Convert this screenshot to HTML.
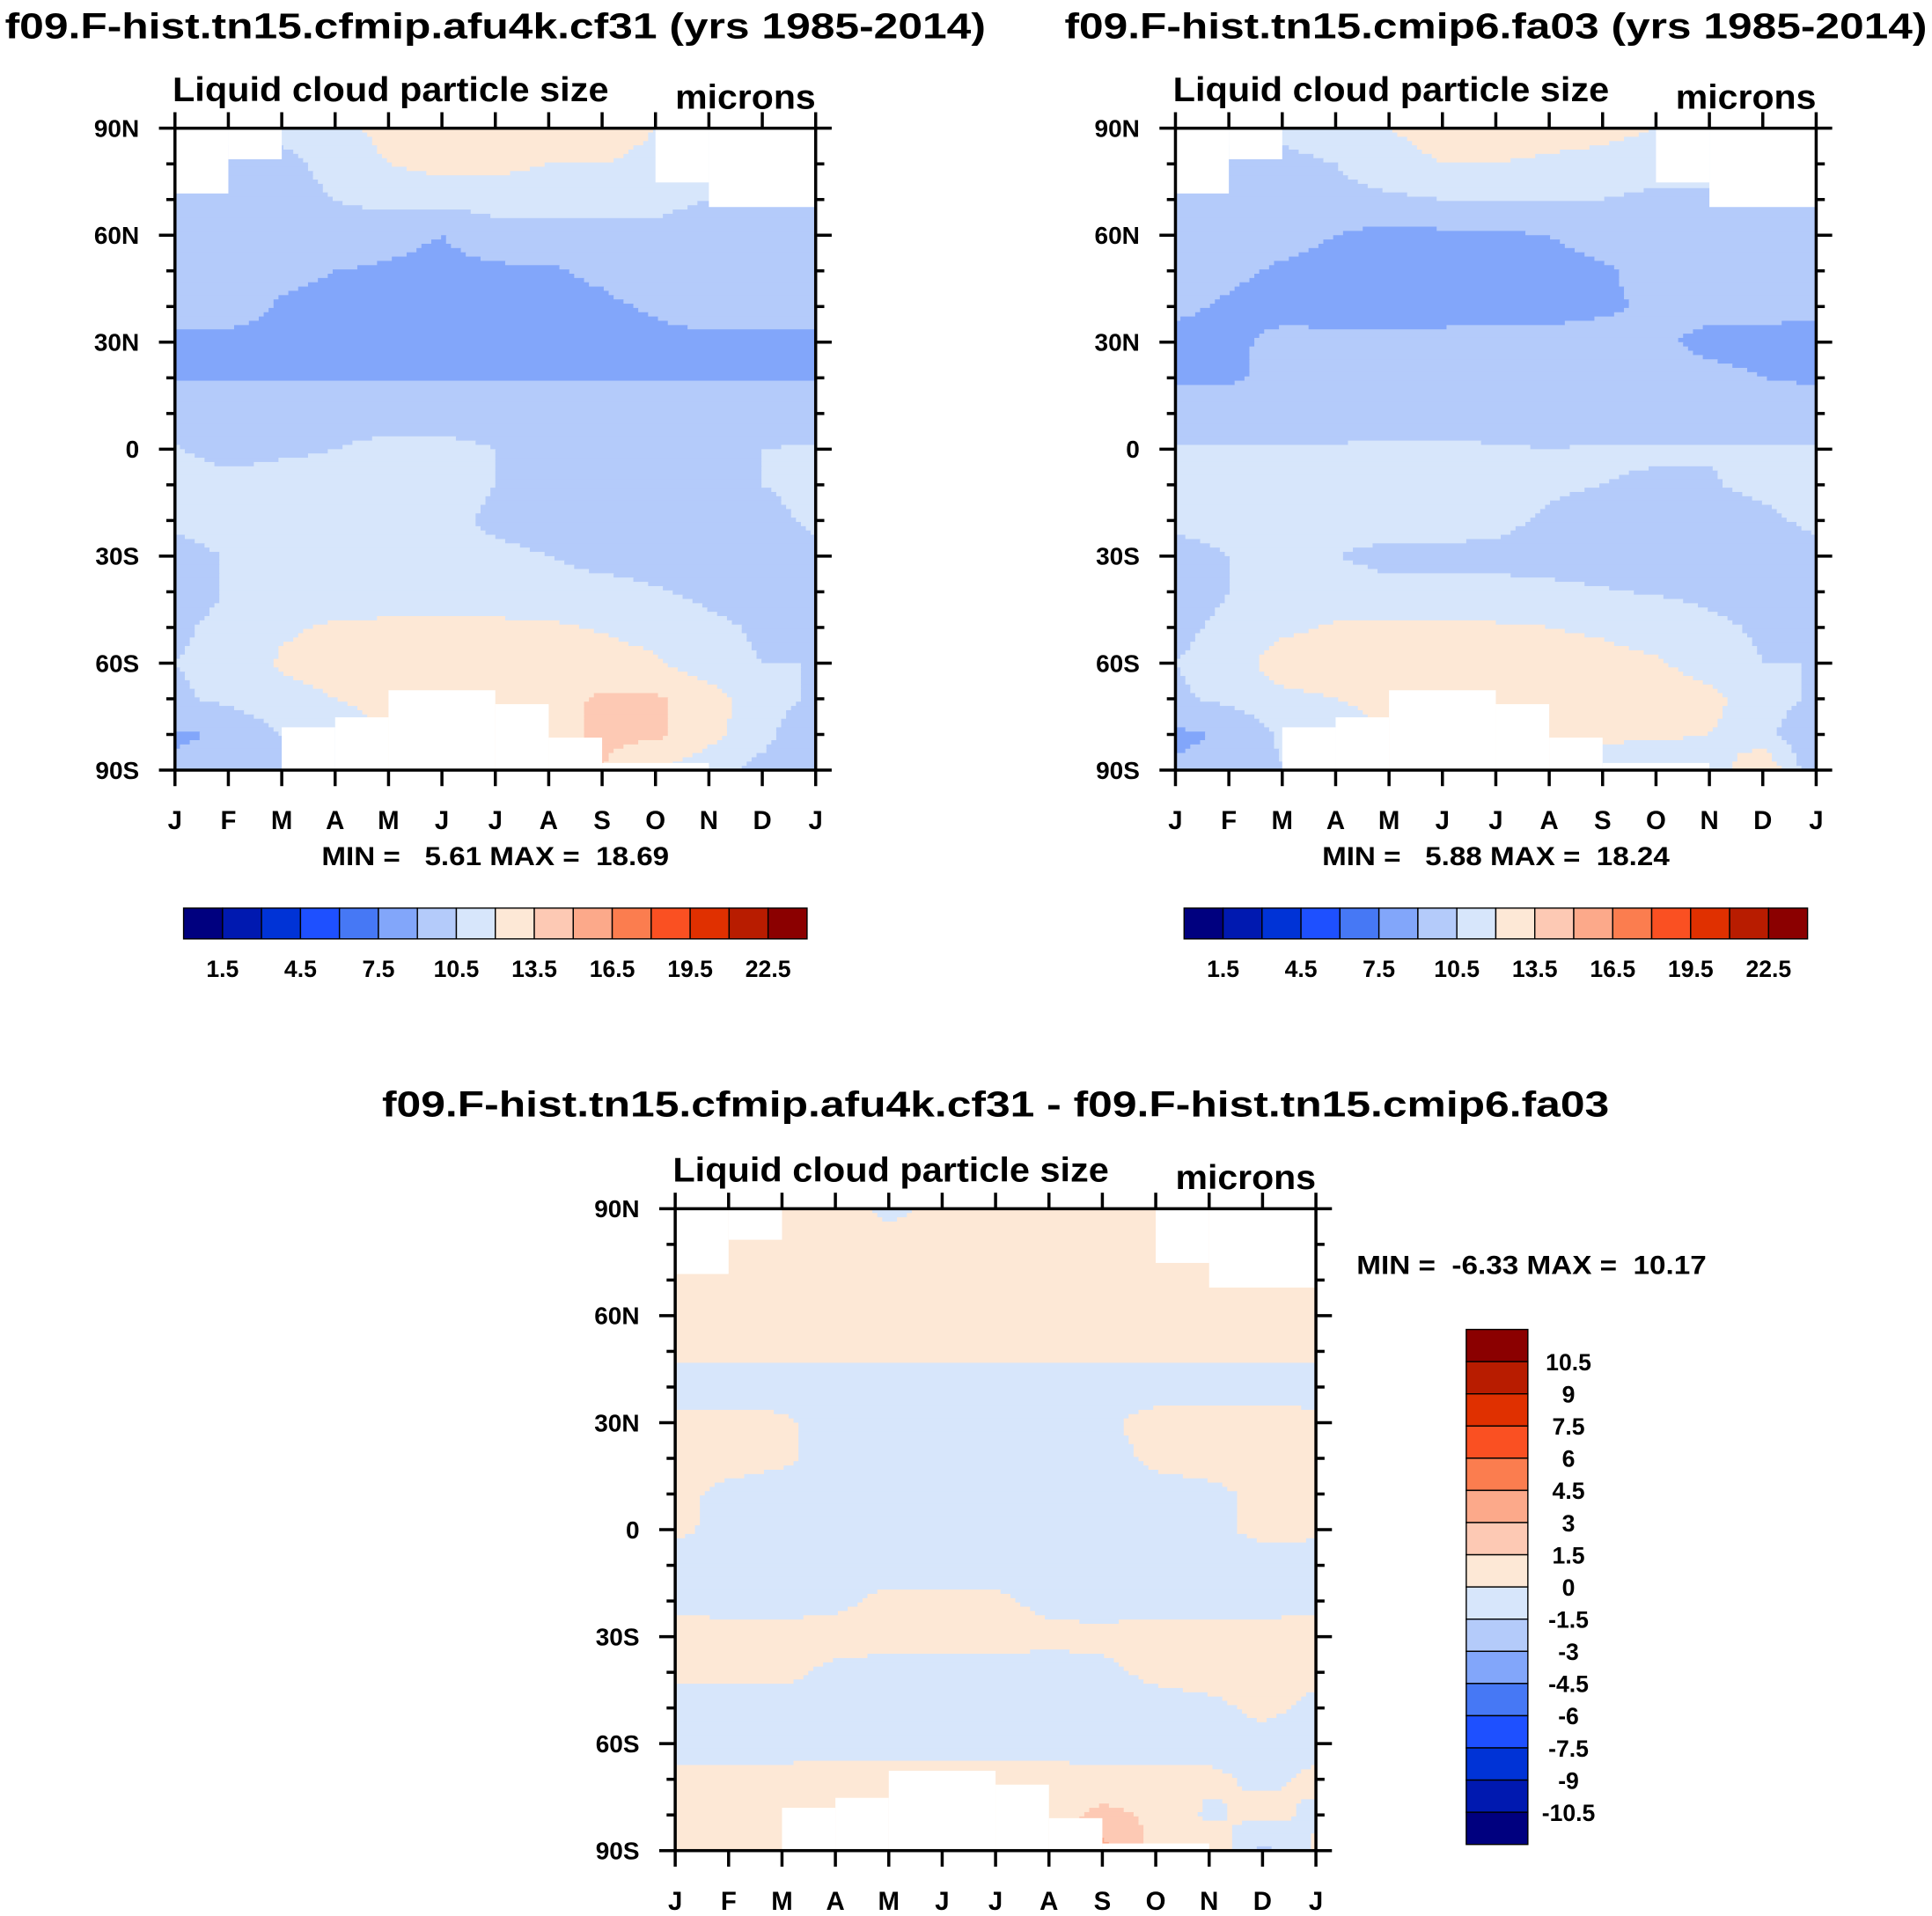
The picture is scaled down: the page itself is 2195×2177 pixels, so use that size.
<!DOCTYPE html>
<html><head><meta charset="utf-8"><style>
html,body{margin:0;padding:0;background:#fff;}
svg{display:block;font-family:"Liberation Sans",sans-serif;font-weight:bold;}
.pre{white-space:pre;}
</style></head><body>
<svg id="fig" xmlns="http://www.w3.org/2000/svg" width="2195" height="2177" viewBox="0 0 1568 1555">
<rect x="0" y="0" width="1568" height="1555" fill="#fff"/>
<text x="4" y="31" font-size="29" textLength="796" lengthAdjust="spacingAndGlyphs">f09.F-hist.tn15.cfmip.afu4k.cf31 (yrs 1985-2014)</text>
<text x="864" y="31" font-size="29" textLength="700" lengthAdjust="spacingAndGlyphs">f09.F-hist.tn15.cmip6.fa03 (yrs 1985-2014)</text>
<text x="310" y="906" font-size="29" textLength="996" lengthAdjust="spacingAndGlyphs">f09.F-hist.tn15.cfmip.afu4k.cf31 - f09.F-hist.tn15.cmip6.fa03</text>
<g id="panels"></g>
</svg>
<script>
const months = ["J","F","M","A","M","J","J","A","S","O","N","D","J"];
const latTicks = ["90N","60N","30N","0","30S","60S","90S"];
const latRows = [90,80,70,60,50,40,30,20,10,0,-10,-20,-30,-40,-50,-60,-70,-80,-90];
const colors = ["#00007f","#0019b0","#0033d6","#1e50ff","#4678f5","#82a6fa","#b4cbfa","#d7e6fb","#fde8d6","#fdc9b4","#fca98a","#fb7d4f","#fa5022","#e03000","#b81c00","#8b0000"];
const absLabels = ["1.5","4.5","7.5","10.5","13.5","16.5","19.5","22.5"];
const diffLabels = ["10.5","9","7.5","6","4.5","3","1.5","0","-1.5","-3","-4.5","-6","-7.5","-9","-10.5"];
const masks = [[0,1,90,71.7],[1,2,90,81.3],[9,10,90,74.8],[10,12,90,67.9],[2,3,-78,-90],[3,4,-75.2,-90],[4,6,-67.6,-90],[6,7,-71.5,-90],[7,8,-80.9,-90],[8,10,-88,-90]];
const cf31 = [
[11,11,11,11.5,12.5,12.5,12.5,12.5,13,12,12,12,11],
[10,10,10,11,12,12.5,12.5,12,12,11.5,11,11,10],
[10,10,10,10.5,11,11,11,11,11,10.8,10.5,10.5,10],
[10,10,9.5,9.8,9.5,9,10,10,10,10.2,10,10,10],
[10,9.8,9.5,9,8.8,8.5,8.7,8.8,9.3,10,10,10,10],
[10,9.8,8.8,8.4,8.4,8.5,8.5,8.6,8.7,9.2,9.8,10,10],
[8.5,8.5,8.5,8.5,8.6,8.6,8.6,8.6,8.6,8.6,8.6,8.5,8.5],
[8.9,8.9,8.9,8.9,8.9,8.9,8.9,8.9,8.9,8.9,8.9,8.9,8.9],
[10,10,9.8,10,10,10,10,9.8,9.8,9.8,9.8,10,10],
[10.6,10,10.3,10.5,10.8,10.8,10.5,10.2,10,10,10.4,10.5,10.6],
[11,11,11,11,11,11,10.5,10,10,10,10,10.5,11],
[10.8,11,11,11,11,11,10.2,10,9.8,9.8,10,10,10.8],
[10,10.6,11,11,11,11,10.8,10.5,10,10,10,10,10],
[9.8,10.6,11,11.2,11.2,11.2,11.2,11.2,11,10.6,10.2,10,9.8],
[10.3,10.8,11.8,12.2,12.3,12.3,12.3,12.2,11.9,11.5,10.8,10.3,10.3],
[10.5,10.8,12.2,12.5,12.5,12.5,12.5,12.5,12.5,12.2,11,10.5,10.5],
[10.3,10.8,11.5,12,12.3,12.5,13,13,13.7,13.7,12.8,11,10.3],
[8.8,9.2,10.5,11.5,12,12,12,13,13.8,13.8,12.5,11,9.2],
[9.3,9.3,10.5,11,12,12,12,13,13.5,12,11,10,9.3]];
const fa03 = [
[11,11,11,11.5,12,12.5,12.5,12.5,12.5,12,12,12,11],
[10,10,10,10.5,11.5,12,12,11.8,11.5,11,11,11,10],
[9.8,9.8,9.8,10,10.2,10.5,10.5,10.5,10.5,10.2,10.2,10,9.8],
[9.8,9.6,9.5,9,8.5,8.7,8.8,9,9.5,9.8,9.8,9.8,9.8],
[9.5,9.3,8.8,8.5,8.4,8.4,8.5,8.6,8.8,9.5,9.8,9.8,9.5],
[9.3,8.8,8.4,8.2,8.2,8.3,8.4,8.5,8.8,9.2,9.5,9.5,9.3],
[8.5,8.6,9.5,9.5,9.5,9.5,9.5,9.5,9.5,9.3,8.6,8.5,8.5],
[8.8,8.8,9.4,9.6,9.6,9.6,9.6,9.6,9.6,9.6,9.4,9.0,8.8],
[9.8,9.8,9.8,9.9,10,10,9.9,9.9,9.9,9.9,9.9,9.8,9.8],
[10.6,10.6,10.6,10.6,10.7,10.7,10.6,10.5,10.6,10.6,10.6,10.6,10.6],
[11,11,11,11,11,11,11,10.7,10.5,10.4,10.4,10.8,11],
[10.8,11,11,11,11,11,10.8,10.3,10,10,10,10.2,10.8],
[10,10.5,10.6,10.5,10.2,10.2,10.2,10,9.8,10,10,10,10],
[9.8,10.5,11,11,10.8,10.8,10.8,10.8,10.6,10.4,10.2,9.9,9.8],
[10.2,10.8,11.6,12.2,12.3,12.2,12.2,12,11.8,11.3,10.8,10.3,10.2],
[10.5,11,13,13.3,13.2,13,12.8,12.5,12.4,12.2,11.2,10.5,10.5],
[10.3,10.8,11.5,12,12.3,12.5,12.8,12.8,13.2,13.2,12.5,11,10.3],
[8.7,9.2,10.8,11.5,12,12,12,12.2,12.5,12.3,12,11,9.2],
[9.2,9.5,10.4,11,12,12,12,12,10.5,10.5,11,13.5,9.2]];
const diff = [
[0.5,0.5,0.5,0.5,-0.3,0.3,0.5,0.5,0.5,0.5,0.5,0.5,0.5],
[0.5,0.5,0.5,0.5,0.5,0.5,0.5,0.5,0.5,0.5,0.5,0.5,0.5],
[0.5,0.5,0.5,0.5,0.5,0.5,0.5,0.5,0.5,0.5,0.5,0.5,0.5],
[0.5,0.5,0.5,0.5,0.5,0.5,0.5,0.5,0.5,0.5,0.5,0.5,0.5],
[0.3,0.3,0.3,0.3,0.3,0.3,0.3,0.3,0.3,0.3,0.3,0.3,0.3],
[-0.5,-0.5,-0.5,-0.5,-0.5,-0.5,-0.5,-0.5,-0.5,-0.5,-0.5,-0.5,-0.5],
[0.3,0.3,0.2,-0.5,-0.5,-0.5,-0.5,-0.5,-0.2,0.4,0.5,0.5,0.3],
[0.5,0.4,0.2,-0.5,-0.5,-0.5,-0.5,-0.5,-0.5,0.3,0.5,0.5,0.5],
[0.3,-0.3,-0.5,-0.5,-0.5,-0.5,-0.5,-0.5,-0.5,-0.5,-0.3,0.3,0.3],
[0.2,-0.3,-0.5,-0.5,-0.5,-0.5,-0.5,-0.5,-0.5,-0.5,-0.3,0.3,0.2],
[-0.5,-0.5,-0.5,-0.5,-0.5,-0.5,-0.5,-0.5,-0.5,-0.5,-0.5,-0.5,-0.5],
[-0.3,-0.5,-0.5,-0.3,0.3,0.3,0.2,-0.3,-0.5,-0.5,-0.5,-0.5,-0.3],
[0.5,0.5,0.5,0.5,0.5,0.5,0.5,0.3,0.3,0.5,0.5,0.5,0.5],
[0.3,0.3,0.3,-0.3,-0.5,-0.5,-0.5,-0.5,-0.3,0.3,0.5,0.5,0.3],
[-0.5,-0.5,-0.5,-0.5,-0.5,-0.5,-0.5,-0.5,-0.5,-0.5,-0.3,0.3,-0.3],
[-0.5,-0.5,-0.5,-0.5,-0.5,-0.5,-0.5,-0.5,-0.5,-0.5,-0.5,-0.5,-0.5],
[0.3,0.3,0.4,0.5,0.5,0.5,0.5,0.5,0.3,0.3,0.3,-0.3,0.3],
[0.5,0.8,1,0.5,0.5,0.5,0.5,0.5,2,1.2,-0.3,0.5,-0.3],
[0.3,0.3,0.5,0.5,0.5,0.5,0.5,0.5,3.5,1,1.5,-2,0.3]];

const NS = "http://www.w3.org/2000/svg";
const root = document.getElementById("panels");
function mk(tag, attrs, parent){ const e=document.createElementNS(NS,tag); for(const k in attrs) e.setAttribute(k,attrs[k]); (parent||root).appendChild(e); return e; }
function txt(s, attrs, parent){ const e=mk("text",attrs,parent); e.textContent=s; return e; }

function absIdx(v){ return Math.max(0,Math.min(15,Math.floor(v/1.5))); }
function diffIdx(v){ return Math.max(0,Math.min(15,Math.floor((v+10.5)/1.5)+1)); }

function drawPanel(x0,y0,data,idxFn,name,minmax,horizBar){
  const W=520,H=521;
  const g=mk("g",{});  
  const xs=m=>x0+m/12*W, ys=lat=>y0+(90-lat)/180*H;
  const field=mk("g",{},g);
  
  
  const NX=130,NY=150;
  function val(m,lat){
    const r=(90-lat)/10; let i=Math.min(17,Math.floor(r)); const fy=r-i;
    let j=Math.min(11,Math.floor(m)); const fx=m-j;
    const a=data[i][j],b=data[i][j+1],c=data[i+1][j],d=data[i+1][j+1];
    return a*(1-fx)*(1-fy)+b*fx*(1-fy)+c*(1-fx)*fy+d*fx*fy;
  }
  for(let r=0;r<NY;r++){
    const lat=90-(r+0.5)/NY*180; const yt=ys(90-r/NY*180), yb=ys(90-(r+1)/NY*180);
    let start=0, cur=-1;
    for(let c=0;c<=NX;c++){
      let idx=-2;
      if(c<NX){ idx=idxFn(val((c+0.5)/NX*12,lat)); }
      if(idx!==cur){
        if(cur>=0 && c>start){
          const rc=mk("rect",{x:xs(start/NX*12),y:yt,width:xs(c/NX*12)-xs(start/NX*12)+0.6,height:yb-yt+0.6,fill:colors[cur]},field);
          
          
        }
        start=c; cur=idx;
      }
    }
  }
  masks.forEach(mm=>{
    const rc=mk("rect",{x:xs(mm[0]),y:ys(mm[2]),width:xs(mm[1])-xs(mm[0]),height:ys(mm[3])-ys(mm[2]),fill:"#fff"},g);
    
    
  });
  const ax=mk("g",{stroke:"#000","stroke-width":2.5,fill:"none"},g);
  
  
  mk("rect",{x:x0,y:y0,width:W,height:H},ax);
  for(let m=0;m<=12;m++){ const x=xs(m);
    mk("line",{x1:x,y1:y0,x2:x,y2:y0-13},ax); mk("line",{x1:x,y1:y0+H,x2:x,y2:y0+H+13},ax);
    const t=txt(months[m],{x:x,y:y0+H+48,"font-size":21,"text-anchor":"middle",fill:"#000",stroke:"none"},g);
    
    
  }
  for(let k=0;k<=18;k++){ const lat=90-k*10, y=ys(lat), L=(k%3===0)?13:7;
    mk("line",{x1:x0,y1:y,x2:x0-L,y2:y},ax); mk("line",{x1:x0+W,y1:y,x2:x0+W+L,y2:y},ax);
  }
  latTicks.forEach((s,k)=>{ const t=txt(s,{x:x0-29,y:ys(90-k*30)+7,"font-size":20,"text-anchor":"end"},g);
    
    
  });
  const st=txt("Liquid cloud particle size",{x:x0-2,y:y0-22,"font-size":28,textLength:354,lengthAdjust:"spacingAndGlyphs"},g);
  
  
  const un=txt("microns",{x:x0+W-114,y:y0-16,"font-size":28,textLength:114,lengthAdjust:"spacingAndGlyphs"},g);
  
  
  if(horizBar){
    const mt=txt(minmax,{x:x0+119,y:y0+H+77,"font-size":21,"class":"pre",textLength:282,lengthAdjust:"spacingAndGlyphs"},g);
    
    
    const cb=mk("g",{},g);
    
    
    const bx=x0+7, bw=506/16;
    colors.forEach((c,i)=>{ const r=mk("rect",{x:bx+i*bw,y:737,width:bw,height:25,fill:c,stroke:"#000","stroke-width":1},cb);
      
       });
    absLabels.forEach((s,i)=>{ const t=txt(s,{x:bx+(2*i+1)*bw,y:793,"font-size":19,"text-anchor":"middle"},cb);
      
       });
  }
}
drawPanel(142,104,cf31,absIdx,"panel-cf31","MIN =   5.61 MAX =  18.69",true);
drawPanel(954,104,fa03,absIdx,"panel-fa03","MIN =   5.88 MAX =  18.24",true);
drawPanel(548,981,diff,diffIdx,"panel-diff","",false);
const mt3=txt("MIN =  -6.33 MAX =  10.17",{x:1101,y:1034,"font-size":21,"class":"pre",textLength:284,lengthAdjust:"spacingAndGlyphs"});


const vcb=mk("g",{});


const bh=418/16;
colors.slice().reverse().forEach((c,i)=>{ const r=mk("rect",{x:1190,y:1079+i*bh,width:50,height:bh,fill:c,stroke:"#000","stroke-width":1},vcb);
  
   });
diffLabels.forEach((s,i)=>{ const t=txt(s,{x:1273,y:1079+(i+1)*bh+7,"font-size":19,"text-anchor":"middle"},vcb);
  
   });
</script>
</body></html>
